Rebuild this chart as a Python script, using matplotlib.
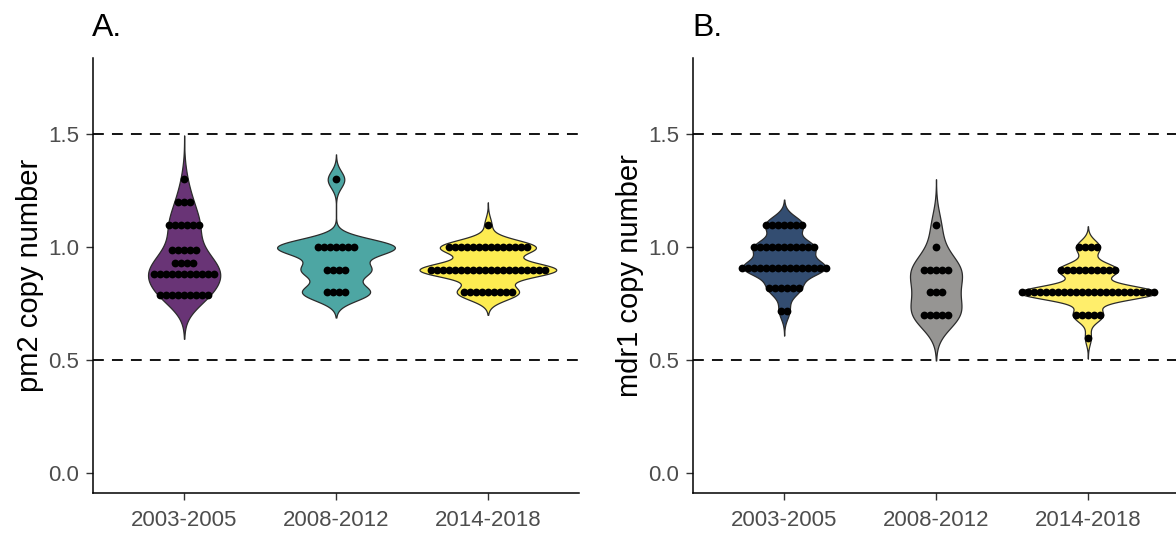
import numpy as np
import matplotlib.pyplot as plt

plt.rcParams['font.family'] = ['Liberation Sans', 'DejaVu Sans']

periods = ["2003-2005", "2008-2012", "2014-2018"]

# pm2 copy number: dot rows per period (row value, number of dots)
pm2_levels = [
    [1.30, 1.20, 1.10, 0.99, 0.93, 0.88, 0.79],
    [1.30, 1.00, 0.90, 0.80],
    [1.10, 1.00, 0.90, 0.80],
]
pm2_counts = [
    [1, 3, 6, 5, 4, 11, 9],
    [1, 7, 4, 4],
    [1, 14, 20, 9],
]

# mdr1 copy number
mdr1_levels = [
    [1.10, 1.00, 0.91, 0.82, 0.72],
    [1.10, 1.00, 0.90, 0.80, 0.70],
    [1.00, 0.90, 0.80, 0.70, 0.60],
]
mdr1_counts = [
    [7, 11, 15, 6, 2],
    [1, 1, 5, 3, 5],
    [4, 10, 23, 5, 1],
]

# kernel bandwidth per violin
pm2_bw = [0.065, 0.037, 0.033]
mdr1_bw = [0.037, 0.067, 0.031]

pm2_colors = ["#693476", "#4DA6A3", "#FDEC51"]
mdr1_colors = ["#334D71", "#969593", "#FFEE6B"]


def kde(vals, bw, grid):
    z = (grid[:, None] - vals[None, :]) / bw
    return np.exp(-0.5 * z ** 2).sum(axis=1) / (len(vals) * bw * np.sqrt(2 * np.pi))


def draw_panel(ax, levels, counts, bws, colors, ylabel, tag):
    groups = []
    for lv, ct, bw in zip(levels, counts, bws):
        vals = np.repeat(lv, ct)
        grid = np.linspace(vals.min() - 3 * bw, vals.max() + 3 * bw, 512)
        groups.append((grid, kde(vals, bw, grid)))
    dmax = max(d.max() for _, d in groups)

    for i, (grid, dens) in enumerate(groups):
        x = i + 1
        half = 0.45 * dens / dmax
        ax.fill_betweenx(grid, x - half, x + half, facecolor=colors[i],
                         edgecolor="#2b2b2b", linewidth=0.9, zorder=2)
        # centred dot stacks
        dx = 0.0395
        for lv, n in zip(levels[i], counts[i]):
            xs = x + (np.arange(n) - (n - 1) / 2) * dx
            ax.plot(xs, np.full(n, lv), 'o', color='black', markersize=5.6,
                    markeredgewidth=0, zorder=3)

    for yy in (0.5, 1.5):
        ax.axhline(yy, color='black', linestyle=(0, (6, 4.5)), linewidth=1.3, zorder=1)

    ax.set_xlim(0.4, 3.6)
    ax.set_ylim(-0.0875, 1.8375)
    ax.set_xticks([1, 2, 3])
    ax.set_xticklabels(periods)
    ax.set_yticks([0.0, 0.5, 1.0, 1.5])
    ax.set_yticklabels(["0.0", "0.5", "1.0", "1.5"])
    ax.tick_params(labelsize=16, colors='#333333', labelcolor='#4d4d4d',
                   length=5, width=1.0, pad=5)
    ax.tick_params(axis='x', pad=7)
    ax.spines['top'].set_visible(False)
    ax.spines['right'].set_visible(False)
    for s in ('left', 'bottom'):
        ax.spines[s].set_linewidth(1.1)
    ax.set_ylabel(ylabel, fontsize=21, labelpad=3)
    ax.text(-0.002, 1.035, tag, transform=ax.transAxes, fontsize=23,
            ha='left', va='bottom')


fig = plt.figure(figsize=(11.76, 5.34), dpi=100)
ax1 = fig.add_axes([93 / 1176, 41 / 534, 486 / 1176, 435 / 534])
ax2 = fig.add_axes([693 / 1176, 41 / 534, 486 / 1176, 435 / 534])

draw_panel(ax1, pm2_levels, pm2_counts, pm2_bw, pm2_colors, "pm2 copy number", "A.")
draw_panel(ax2, mdr1_levels, mdr1_counts, mdr1_bw, mdr1_colors, "mdr1 copy number", "B.")

fig.savefig("out.png", dpi=100)
